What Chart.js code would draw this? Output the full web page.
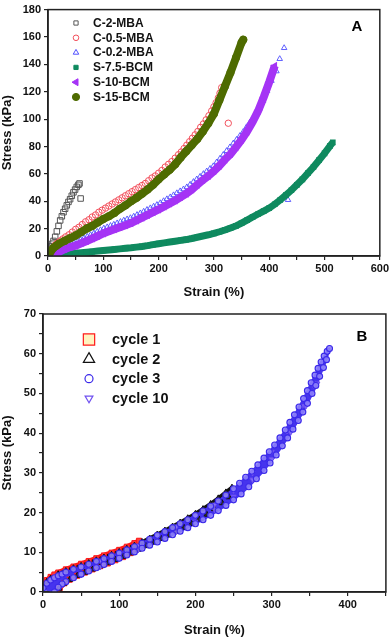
<!DOCTYPE html>
<html>
<head>
<meta charset="utf-8">
<script src="https://cdn.jsdelivr.net/npm/chart.js@4.4.1/dist/chart.umd.min.js"></script>
<style>
html, body { margin: 0; padding: 0; background: #fff; width: 391px; height: 638px; overflow: hidden; }
#chartA { position: absolute; left: 0; top: 0; }
#chartB { position: absolute; left: 0; top: 300px; }
</style>
</head>
<body>
<canvas id="chartA" width="391" height="300"></canvas>
<canvas id="chartB" width="391" height="338"></canvas>
<script>
// ---- panel A data (strain %, stress kPa) ----
var grayX = [0, 2, 4, 6, 8, 10, 13, 16, 19, 22, 25, 28, 31, 34, 37, 40, 43, 46, 49, 52, 55, 57, 59];
var grayY = [0, 2.5, 4.5, 7, 9, 11, 14, 18, 22, 26, 29, 32, 34.5, 37, 39.5, 41.5, 44, 46.5, 48.5, 50.5, 52, 53, 42];

var redX = [2, 5, 9, 13, 17, 22, 27, 32, 38, 44, 50, 56, 62, 68, 74, 80, 86, 92, 98, 104, 110, 116, 122, 128, 134, 140, 146, 152, 158, 164, 170, 176, 182, 188, 194, 200, 206, 212, 218, 224, 230, 236, 241, 246, 251, 256, 261, 266, 271, 276, 281, 286, 291, 296, 300, 304, 308, 311, 314, 326];
var redY = [2, 4, 6, 8, 9.5, 11, 12.5, 14, 15.5, 17.5, 19.5, 21, 23, 25, 26.5, 28.5, 30, 32, 33.5, 35, 36.5, 38, 39.5, 41, 42.5, 44, 45.5, 47, 48.5, 50, 51.5, 53, 55, 57, 58.5, 60.5, 62.5, 65, 67, 69, 71.5, 74, 76, 78.5, 81, 83.5, 86, 88.5, 91, 94, 96.5, 99.5, 102.5, 106, 109, 112, 115.5, 119, 123, 97];

var blueX = [6, 10, 14, 18, 22, 27, 32, 37, 42, 47, 53, 59, 65, 71, 77, 83, 89, 95, 101, 107, 113, 119, 125, 131, 137, 143, 149, 155, 161, 167, 173, 179, 185, 191, 197, 203, 209, 215, 221, 227, 233, 239, 245, 251, 257, 263, 269, 275, 281, 287, 293, 299, 305, 311, 317, 323, 329, 335, 341, 347, 353, 359, 365, 371, 377, 382, 389, 396, 404, 413, 419, 427, 434];
var blueY = [0.5, 2.5, 3.8, 4.6, 5.4, 6.2, 7, 7.8, 8.7, 9.5, 10.6, 11.8, 13, 14.2, 15.4, 16.6, 17.8, 19, 20.2, 21.1, 22.1, 23, 24, 25, 26, 26.9, 27.8, 28.9, 30.1, 31.3, 32.5, 33.8, 35, 36.2, 37.4, 38.7, 40.2, 41.6, 43, 44.5, 46, 47.4, 48.8, 50.3, 52.2, 54.2, 56.1, 58, 60, 61.9, 63.8, 65.7, 68.5, 71.2, 74, 76.8, 79.5, 82.3, 85, 87.8, 90.7, 94.2, 97.7, 101.2, 104.6, 107.5, 113.5, 120.7, 128, 135, 144, 152, 41];

var greenX = [10, 20, 30, 40, 50, 60, 70, 80, 90, 100, 110, 120, 130, 140, 150, 160, 170, 180, 190, 200, 210, 220, 230, 240, 250, 260, 270, 280, 290, 300, 310, 320, 330, 340, 350, 360, 370, 380, 390, 400, 410, 420, 430, 440, 450, 460, 470, 480, 490, 500, 510, 515];
var greenY = [0, 0.7, 1.1, 1.6, 2, 2.4, 2.8, 3.2, 3.6, 4, 4.4, 4.8, 5.2, 5.6, 6, 6.5, 7, 7.6, 8.3, 9, 9.6, 10.2, 10.8, 11.4, 12, 12.8, 13.7, 14.6, 15.5, 16.5, 17.7, 19, 20.4, 22, 24, 26.2, 28.5, 30.7, 32.8, 35, 37.8, 41, 44.5, 48, 52, 56, 60.5, 65, 70, 75, 80.5, 83];

var purpleX = [9, 12, 15, 20, 30, 40, 50, 60, 70, 80, 90, 100, 110, 120, 130, 140, 150, 160, 170, 180, 190, 200, 210, 220, 230, 240, 250, 260, 270, 280, 290, 300, 310, 320, 330, 340, 350, 360, 370, 380, 390, 400, 410];
var purpleY = [0, 1, 2, 3, 5, 6.5, 7.5, 9.3, 11, 12.8, 14.6, 16.5, 18, 19.5, 21, 22.5, 24, 26, 28, 30, 32, 34, 36.2, 38.4, 40.6, 43, 45.5, 48.5, 52, 55.5, 58.5, 62, 66, 70.5, 74.5, 79.5, 85, 91, 98, 106, 116, 127, 139];

var oliveX = [0, 3, 6, 10, 15, 20, 30, 40, 50, 60, 70, 80, 90, 100, 110, 120, 130, 140, 150, 160, 170, 180, 190, 200, 210, 220, 230, 240, 250, 260, 270, 280, 290, 300, 310, 320, 330, 340, 350, 353];
var oliveY = [0, 2, 4, 6, 7.5, 9, 11, 13, 15, 17.5, 20, 22, 24.5, 27, 29, 31.5, 34.5, 37, 40, 42.5, 45.5, 48.5, 52, 56, 59.5, 63, 67, 72, 76.5, 81, 85.5, 91, 97, 104, 114, 124, 134, 145, 156, 158];

var labelsA = ['C-2-MBA', 'C-0.5-MBA', 'C-0.2-MBA', 'S-7.5-BCM', 'S-10-BCM', 'S-15-BCM'];

// ---- panel B data: loading then unloading for each cycle ----
var c1UpX = [0, 5, 10, 15, 20, 30, 40, 50, 60, 70, 80, 90, 100, 110, 120, 126];
var c1UpY = [1.7, 3, 3.8, 4.4, 4.9, 5.7, 6.4, 7.1, 7.8, 8.5, 9.2, 9.9, 10.6, 11.4, 12.3, 12.9];
var c1DownX = [122, 115, 105, 95, 85, 75, 65, 55, 45, 35, 28, 22, 18];
var c1DownY = [10.8, 9.8, 8.8, 8, 7.2, 6.5, 5.7, 4.9, 4.1, 3.1, 2.2, 1, 0];

var c2UpX = [0, 5, 10, 20, 30, 40, 50, 60, 70, 80, 90, 100, 110, 120, 130, 140, 150, 160, 170, 180, 190, 200, 210, 220, 230, 240, 248];
var c2UpY = [1.3, 2.6, 3.4, 4.5, 5.3, 6, 6.6, 7.3, 8, 8.7, 9.4, 10.1, 10.9, 11.7, 12.6, 13.5, 14.5, 15.5, 16.5, 17.5, 18.6, 19.7, 20.9, 22.2, 23.6, 25.1, 26.3];
var c2DownX = [244, 235, 225, 215, 205, 195, 185, 175, 165, 155, 145, 135, 125, 115, 105, 95, 85, 75, 65, 55, 45, 35, 27, 21, 17];
var c2DownY = [23.9, 22.4, 20.9, 19.5, 18.3, 17.2, 16.2, 15.2, 14.3, 13.4, 12.5, 11.6, 10.7, 9.8, 8.9, 8.1, 7.3, 6.5, 5.7, 4.9, 4.1, 3.1, 2.1, 0.9, 0];

var c3UpX = [0, 5, 10, 15, 20, 25, 30, 40, 50, 60, 70, 80, 90, 100, 110, 120, 130, 140, 150, 160, 170, 180, 190, 200, 210, 220, 230, 240, 250, 258, 266, 274, 282, 290, 297, 304, 311, 318, 324, 330, 336, 342, 347, 352, 357, 361, 365, 369, 373, 376];
var c3UpY = [1, 2.2, 3, 3.6, 4.1, 4.5, 5, 5.7, 6.3, 7, 7.7, 8.4, 9.1, 9.8, 10.6, 11.4, 12.3, 13.3, 14.3, 15.2, 16.2, 17.2, 18.2, 19.3, 20.4, 21.6, 22.9, 24.4, 26, 27.4, 28.9, 30.4, 32, 33.7, 35.3, 37, 38.8, 40.8, 42.7, 44.6, 46.6, 48.7, 50.7, 52.7, 54.6, 56.3, 57.9, 59.4, 60.6, 61.3];
var c3DownX = [372, 368, 363, 358, 353, 347, 341, 335, 328, 321, 314, 306, 298, 290, 280, 270, 260, 250, 240, 230, 220, 210, 200, 190, 180, 170, 160, 150, 140, 130, 120, 110, 100, 90, 80, 70, 60, 50, 40, 30, 25, 20, 15];
var c3DownY = [58.5, 56.5, 54.3, 52, 50, 47.5, 45.3, 43.2, 41, 38.8, 36.8, 34.5, 32.5, 30.6, 28.5, 26.5, 24.7, 23.2, 21.8, 20.5, 19.3, 18.2, 17.2, 16.2, 15.3, 14.4, 13.5, 12.6, 11.8, 11, 10.1, 9.3, 8.5, 7.7, 6.9, 6.1, 5.3, 4.5, 3.6, 2.6, 2, 1.2, 0];

var c10UpX = [0, 10, 25, 50, 75, 100, 125, 150, 175, 200, 225, 250, 275, 300, 320, 340, 355, 366];
var c10UpY = [1, 2.9, 4.4, 6.2, 7.9, 9.7, 11.7, 14.1, 16.5, 19.1, 22, 25.6, 30, 35.3, 40.5, 46.8, 52, 56.5];
var c10DownX = [360, 345, 325, 300, 275, 250, 225, 200, 175, 150, 125, 100, 75, 50, 25, 16];
var c10DownY = [52.5, 46.8, 40.2, 33.4, 28.3, 24, 20.8, 17.7, 15.2, 12.9, 10.6, 8.4, 6.3, 4.3, 1.8, 0];

var labelsB = ['cycle 1', 'cycle 2', 'cycle 3', 'cycle 10'];

function pts(xs, ys) {
    return xs.map(function (x, i) { return { x: x, y: ys[i] }; });
}
function loop(ux, uy, dx, dy) {
    return pts(ux, uy).concat(pts(dx, dy));
}

var FONT = '"Liberation Sans", Arial, sans-serif';

// fills the inside of each hysteresis loop, using the points the scales placed
var loopBands = {
    id: 'loopBands',
    beforeDatasetsDraw: function (chart) {
        var ctx = chart.ctx, a = chart.chartArea;
        var metas = chart.getSortedVisibleDatasetMetas();
        ctx.save();
        ctx.beginPath();
        ctx.rect(a.left, a.top, a.right - a.left, a.bottom - a.top);
        ctx.clip();
        for (var k = metas.length - 1; k >= 0; k--) {
            var ds = chart.data.datasets[metas[k].index];
            if (!ds.bandColor) continue;
            var p = metas[k].data;
            ctx.beginPath();
            ctx.moveTo(p[0].x, p[0].y);
            for (var j = 1; j < p.length; j++) ctx.lineTo(p[j].x, p[j].y);
            ctx.closePath();
            ctx.fillStyle = ds.bandColor;
            ctx.fill();
            ctx.strokeStyle = ds.bandColor;
            ctx.lineWidth = ds.bandEdge;
            ctx.lineJoin = 'round';
            ctx.stroke();
        }
        ctx.restore();
    }
};

// frame, panel letter and the legend inside the plot
var panelDecor = {
    id: 'panelDecor',
    afterDatasetsDraw: function (chart, args, opts) {
        var ctx = chart.ctx, a = chart.chartArea;
        ctx.save();
        ctx.strokeStyle = '#222';
        ctx.lineWidth = 1.5;
        ctx.strokeRect(a.left, a.top, a.right - a.left, a.bottom - a.top);

        ctx.fillStyle = '#000';
        ctx.font = 'bold 15px ' + FONT;
        ctx.textAlign = 'center';
        ctx.textBaseline = 'middle';
        ctx.fillText(opts.letter, opts.lx, opts.ly);

        var L = opts.legend;
        chart.data.datasets.forEach(function (ds, i) {
            var y = L.y + i * L.dy;
            ctx.strokeStyle = ds.pointBorderColor;
            ctx.fillStyle = L.fill[i] || '#fff';
            ctx.lineWidth = L.bw;
            Chart.helpers.drawPoint(ctx, {
                pointStyle: ds.pointStyle,
                rotation: ds.pointRotation || 0,
                radius: L.r[i],
                borderWidth: L.bw
            }, L.x, y);
            ctx.fillStyle = '#111';
            ctx.font = L.font;
            ctx.textAlign = 'left';
            ctx.fillText(ds.label, L.tx, y + 0.5);
        });
        ctx.restore();
    }
};

function axes(xMax, xStep, xLbl, yMax, yStep, yLbl, yWidth, xHeight) {
    var tickFont = { family: FONT, size: 11, weight: 'bold' };
    var titleFont = { family: FONT, size: 13, weight: 'bold' };
    return {
        x: {
            type: 'linear', min: 0, max: xMax,
            afterFit: function (s) { s.height = xHeight; },
            ticks: {
                stepSize: xStep, color: '#111', font: tickFont, padding: 2, maxRotation: 0,
                callback: function (v) { return v % xLbl === 0 ? v : ''; }
            },
            grid: { drawOnChartArea: false, tickLength: 4, color: '#222', lineWidth: 1.2 },
            border: { display: true, color: '#222', width: 1.5 },
            title: { display: true, text: 'Strain (%)', color: '#111', font: titleFont, padding: 0 }
        },
        y: {
            type: 'linear', min: 0, max: yMax,
            afterFit: function (s) { s.width = yWidth; },
            ticks: {
                stepSize: yStep, color: '#111', font: tickFont, padding: 3,
                callback: function (v) { return v % yLbl === 0 ? v : ''; }
            },
            grid: { drawOnChartArea: false, tickLength: 4, color: '#222', lineWidth: 1.2 },
            border: { display: true, color: '#222', width: 1.5 },
            title: { display: true, text: 'Stress (kPa)', color: '#111', font: titleFont, padding: 0 }
        }
    };
}

// ---- chart A ----
new Chart(document.getElementById('chartA'), {
    type: 'scatter',
    data: {
        datasets: [
            { label: labelsA[0], data: pts(grayX, grayY), order: 6, pointStyle: 'rect', pointRadius: 3.9,
              pointBorderColor: '#555', pointBackgroundColor: 'rgba(255,255,255,0)', pointBorderWidth: 1 },
            { label: labelsA[1], data: pts(redX, redY), order: 5, pointStyle: 'circle', pointRadius: 3.2,
              pointBorderColor: '#f2505c', pointBackgroundColor: 'rgba(255,255,255,0)', pointBorderWidth: 1 },
            { label: labelsA[2], data: pts(blueX, blueY), order: 4, pointStyle: 'triangle', pointRadius: 3.2,
              pointBorderColor: '#4f4fff', pointBackgroundColor: 'rgba(255,255,255,0)', pointBorderWidth: 0.9 },
            { label: labelsA[3], data: pts(greenX, greenY), order: 3, pointStyle: 'rect', pointRadius: 4,
              pointBorderColor: '#0f8a5f', pointBackgroundColor: '#0f8a5f', pointBorderWidth: 0,
              showLine: true, borderColor: '#0f8a5f', borderWidth: 7 },
            { label: labelsA[4], data: pts(purpleX, purpleY), order: 2, pointStyle: 'triangle', pointRotation: -90, pointRadius: 4.6,
              pointBorderColor: '#a533f5', pointBackgroundColor: '#a533f5', pointBorderWidth: 0,
              showLine: true, borderColor: '#a533f5', borderWidth: 8 },
            { label: labelsA[5], data: pts(oliveX, oliveY), order: 1, pointStyle: 'circle', pointRadius: 4,
              pointBorderColor: '#4e6b00', pointBackgroundColor: '#4e6b00', pointBorderWidth: 0,
              showLine: true, borderColor: '#4e6b00', borderWidth: 8, borderCapStyle: 'round' }
        ]
    },
    options: {
        responsive: false,
        animation: false,
        events: [],
        layout: { padding: { top: 6, right: 11, left: 0, bottom: 0 } },
        scales: axes(600, 50, 100, 180, 10, 20, 48, 44),
        plugins: {
            legend: { display: false },
            tooltip: { enabled: false },
            panelDecor: {
                letter: 'A', lx: 357, ly: 27,
                legend: { x: 76, y: 23, dy: 14.8, tx: 93, bw: 1,
                    font: 'bold 12px ' + FONT,
                    r: [3, 2.8, 3.2, 3, 4, 3.6],
                    fill: ['#fff', '#fff', '#fff', '#0f8a5f', '#a533f5', '#4e6b00'] }
            }
        }
    },
    plugins: [panelDecor]
});

// ---- chart B ----
new Chart(document.getElementById('chartB'), {
    type: 'scatter',
    data: {
        datasets: [
            { label: labelsB[0], data: loop(c1UpX, c1UpY, c1DownX, c1DownY), order: 4,
              pointStyle: 'rect', pointRadius: 3.6, pointBorderColor: '#ff1a1a', pointBackgroundColor: '#ff3a3a', pointBorderWidth: 1,
              bandColor: '#ff1a1a', bandEdge: 5 },
            { label: labelsB[1], data: loop(c2UpX, c2UpY, c2DownX, c2DownY), order: 3,
              pointStyle: 'triangle', pointRadius: 3.4, pointBorderColor: '#111', pointBackgroundColor: '#2a2a2a', pointBorderWidth: 1,
              bandColor: '#141414', bandEdge: 4 },
            { label: labelsB[2], data: loop(c3UpX, c3UpY, c3DownX, c3DownY), order: 1,
              pointStyle: 'circle', pointRadius: 3, pointBorderColor: '#3a28ea', pointBackgroundColor: 'rgba(140,128,250,0.9)', pointBorderWidth: 1.1,
              bandColor: '#4634ee', bandEdge: 2 },
            { label: labelsB[3], data: loop(c10UpX, c10UpY, c10DownX, c10DownY), order: 2,
              pointStyle: 'triangle', pointRotation: 180, pointRadius: 3, pointBorderColor: '#6f50f0', pointBackgroundColor: 'rgba(150,130,250,0.8)', pointBorderWidth: 1,
              bandColor: '#5a40f0', bandEdge: 2.5 }
        ]
    },
    options: {
        responsive: false,
        animation: false,
        events: [],
        layout: { padding: { top: 14, right: 3, left: 0, bottom: 0 } },
        scales: axes(450, 50, 100, 70, 5, 10, 43, 46),
        plugins: {
            legend: { display: false },
            tooltip: { enabled: false },
            panelDecor: {
                letter: 'B', lx: 362, ly: 37,
                legend: { x: 89, y: 39.5, dy: 19.6, tx: 112, bw: 1.2,
                    font: 'bold 14.5px ' + FONT,
                    r: [8, 6.5, 4, 4.5],
                    fill: ['#fff3c0', '#fff', '#fff', '#fff'] }
            }
        }
    },
    plugins: [loopBands, panelDecor]
});
</script>
</body>
</html>
